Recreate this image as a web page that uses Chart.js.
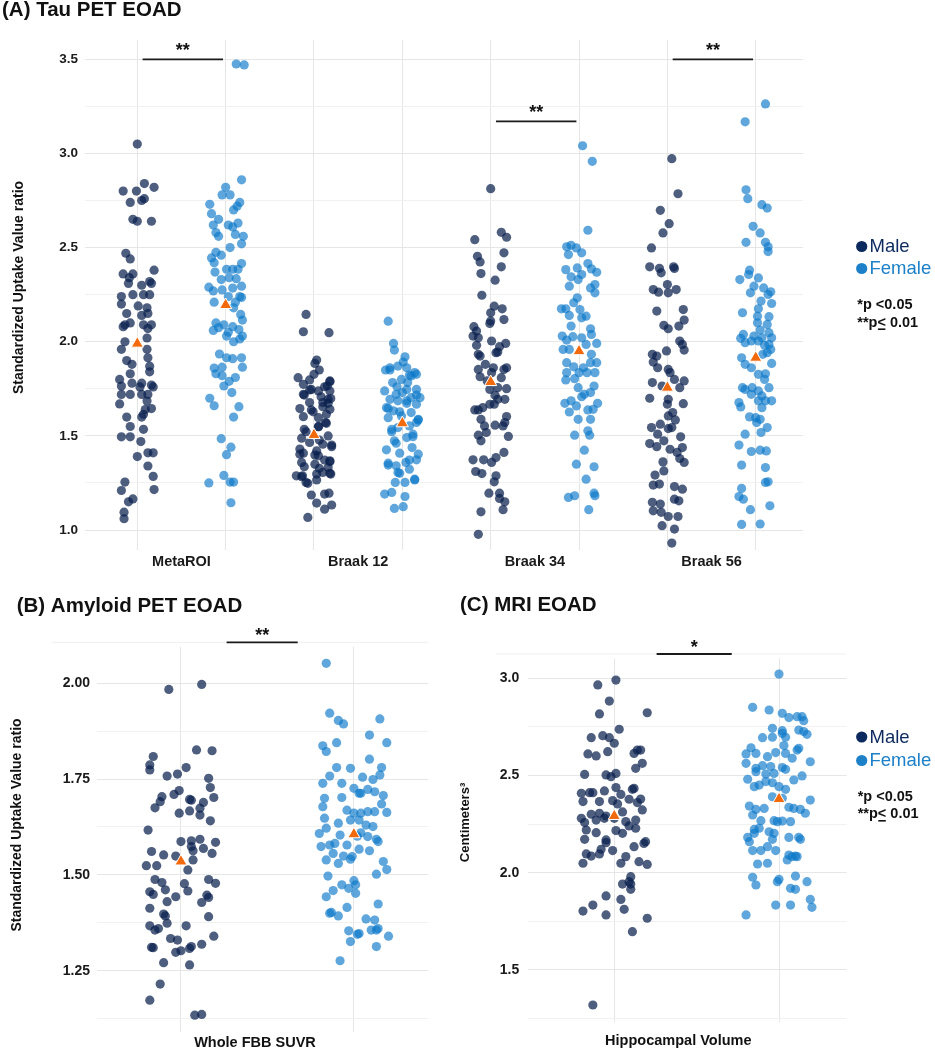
<!DOCTYPE html>
<html>
<head>
<meta charset="utf-8">
<script src="https://cdn.jsdelivr.net/npm/chart.js@4.4.1/dist/chart.umd.min.js"></script>
<style>
  body { margin: 0; background: #fff; }
  #wrap { position: relative; width: 935px; height: 1050px; overflow: hidden; }
  canvas { position: absolute; }
</style>
</head>
<body>
<div id="wrap">
  <canvas id="tau" width="935" height="570" style="left:0;top:0;width:935px;height:570px"></canvas>
  <canvas id="amyloid" width="450" height="480" style="left:0;top:570px;width:450px;height:480px"></canvas>
  <canvas id="mri" width="485" height="480" style="left:450px;top:570px;width:485px;height:480px"></canvas>
</div>
<script>
const FONT = '"Liberation Sans", Arial, Helvetica, sans-serif';
Chart.defaults.font.family = FONT;

// each point: [jitter (in group-spacing units), value]
const tauRegions = ['MetaROI', 'Braak 12', 'Braak 34', 'Braak 56'];

const tauMaleMetaROI = [[0,3.05],[0.08,2.84],[0.19,2.82],[-0.16,2.80],[-0.01,2.80],[-0.08,2.74],[0.05,2.75],[0.08,2.76],[-0.05,2.65],[0,2.64],[0.16,2.64],[-0.13,2.47],[-0.08,2.44],[0.19,2.38],[-0.16,2.36],[-0.09,2.34],[-0.05,2.36],[0.14,2.32],[-0.10,2.31],[0.05,2.30],[0.16,2.31],[-0.18,2.24],[-0.05,2.25],[0.07,2.25],[0.14,2.25],[-0.18,2.20],[0.01,2.19],[0.11,2.18],[0.12,2.15],[0.05,2.14],[-0.12,2.15],[-0.08,2.10],[-0.14,2.09],[0.07,2.09],[0.16,2.09],[-0.16,2.08],[0.12,2.07],[0.11,2.02],[-0.14,2.00],[-0.18,1.96],[0.11,1.96],[-0.12,1.90],[0.12,1.915],[-0.06,1.88],[0.14,1.87],[-0.08,1.83],[0.14,1.84],[-0.20,1.80],[0.05,1.78],[-0.06,1.78],[-0.18,1.765],[0.16,1.77],[0.18,1.76],[0.03,1.76],[-0.18,1.72],[-0.08,1.72],[0.05,1.72],[0.12,1.72],[0.11,1.685],[-0.20,1.67],[0.09,1.64],[0.16,1.645],[0.07,1.615],[0.05,1.60],[-0.12,1.60],[-0.08,1.55],[0.07,1.535],[-0.18,1.495],[-0.08,1.495],[0.04,1.47],[0.12,1.41],[0.18,1.41],[0,1.39],[0.12,1.34],[0.18,1.285],[-0.14,1.255],[-0.18,1.21],[0.19,1.215],[-0.05,1.165],[-0.10,1.15],[-0.15,1.095],[-0.15,1.06]];
const tauFemaleMetaROI = [[0.12,3.475],[0.21,3.47],[0.18,2.86],[0,2.82],[-0.04,2.78],[0.05,2.78],[-0.18,2.73],[0.16,2.74],[0.13,2.72],[0.09,2.70],[-0.16,2.68],[-0.08,2.65],[-0.14,2.62],[0.03,2.62],[0.14,2.63],[0.08,2.61],[-0.11,2.58],[-0.08,2.56],[0.11,2.57],[0.20,2.56],[0.18,2.52],[0.05,2.50],[-0.11,2.475],[-0.16,2.445],[-0.05,2.46],[-0.13,2.42],[0.18,2.415],[0.01,2.385],[0.08,2.385],[0.14,2.385],[-0.12,2.37],[-0.05,2.33],[0.04,2.34],[0.12,2.335],[-0.19,2.29],[-0.14,2.27],[-0.04,2.275],[0.08,2.285],[0.18,2.295],[0.03,2.24],[0.16,2.24],[0.11,2.21],[0.18,2.235],[-0.13,2.21],[0.09,2.18],[0.17,2.145],[0.19,2.115],[-0.11,2.10],[-0.02,2.09],[-0.08,2.075],[0.08,2.08],[-0.14,2.06],[0.03,2.05],[0.15,2.065],[0.01,2.03],[0.19,2.03],[0.09,2.00],[0.16,2.015],[-0.07,1.935],[0.01,1.915],[0.08,1.91],[0.18,1.915],[-0.13,1.86],[-0.04,1.865],[0.19,1.865],[-0.11,1.83],[-0.04,1.82],[0.11,1.81],[0.04,1.79],[-0.02,1.765],[0.07,1.73],[-0.18,1.70],[-0.13,1.66],[0.15,1.655],[0.09,1.60],[-0.05,1.485],[0.06,1.44],[0.01,1.40],[-0.02,1.29],[-0.19,1.25],[0.05,1.255],[0.09,1.255],[0.06,1.145]];

const tauMaleBraak12 = [[-0.09,2.145],[-0.12,2.053],[0.17,2.048],[0.03,1.903],[0.01,1.885],[0.06,1.85],[0,1.827],[-0.18,1.809],[-0.12,1.774],[-0.03,1.747],[0.05,1.739],[0.18,1.792],[0.15,1.765],[-0.12,1.721],[0.18,1.739],[0.16,1.694],[0.19,1.698],[-0.16,1.645],[-0.05,1.677],[0.10,1.677],[0.18,1.641],[-0.03,1.638],[0.05,1.597],[0.14,1.615],[-0.11,1.535],[0.05,1.549],[0.13,1.571],[0.16,1.50],[-0.14,1.488],[-0.05,1.465],[0.10,1.456],[0.20,1.451],[-0.16,1.43],[-0.16,1.403],[0.03,1.42],[0.05,1.394],[-0.14,1.359],[0.01,1.35],[0.18,1.368],[0.16,1.332],[-0.20,1.288],[-0.13,1.288],[-0.09,1.253],[0.03,1.297],[0.10,1.306],[0.19,1.297],[-0.03,1.186],[0.03,1.143],[0.12,1.191],[0.17,1.196],[0.12,1.111],[0.20,1.133],[-0.07,1.067],[-0.05,1.744],[0.12,1.761],[0.18,1.788],[-0.11,1.717],[0.10,1.655],[-0.01,1.628],[0.16,1.673],[-0.12,1.602],[0.14,1.567],[-0.09,1.522],[0.06,1.478],[0.20,1.443],[-0.12,1.408],[0.01,1.399],[0.18,1.363],[-0.11,1.336],[0.06,1.328],[0.18,1.301],[-0.14,1.283],[0.03,1.266],[-0.07,1.248],[0.12,1.372],[0.05,1.549],[-0.05,1.797],[0.08,1.708]];
const tauFemaleBraak12 = [[-0.16,2.109],[-0.10,1.991],[-0.09,1.956],[0.03,1.92],[0.01,1.892],[-0.19,1.85],[-0.14,1.862],[-0.05,1.871],[0.05,1.862],[0.14,1.836],[0.10,1.818],[0.16,1.827],[-0.01,1.80],[-0.11,1.783],[0.06,1.783],[-0.20,1.739],[0.05,1.747],[0.16,1.747],[-0.07,1.721],[0,1.73],[0.10,1.703],[0.20,1.703],[-0.14,1.694],[-0.05,1.686],[0.05,1.686],[-0.18,1.65],[0.16,1.668],[-0.10,1.633],[-0.16,1.597],[-0.01,1.606],[0.10,1.624],[0.18,1.588],[-0.12,1.535],[-0.05,1.544],[0.08,1.553],[0.16,1.571],[-0.09,1.474],[0.05,1.491],[0.12,1.509],[-0.18,1.426],[-0.03,1.408],[0.11,1.438],[0.18,1.403],[-0.16,1.355],[-0.07,1.341],[0.04,1.359],[0.16,1.373],[-0.05,1.306],[0.08,1.323],[-0.08,1.253],[0.03,1.253],[0.14,1.27],[-0.20,1.191],[-0.12,1.20],[0.03,1.178],[-0.09,1.115],[0.01,1.124],[-0.14,1.85],[0.08,1.823],[-0.06,1.761],[0.16,1.717],[-0.16,1.646],[0.05,1.673],[-0.03,1.628],[0.18,1.584],[-0.12,1.522],[0.12,1.496],[-0.07,1.461],[0.08,1.372],[-0.03,1.301],[-0.16,1.345],[0.14,1.266]];

const tauMaleBraak34 = [[0,2.813],[0.12,2.581],[0.18,2.555],[-0.18,2.542],[0.15,2.472],[-0.15,2.454],[-0.12,2.424],[-0.11,2.362],[0.12,2.398],[0.05,2.327],[-0.10,2.247],[0.04,2.189],[0.13,2.175],[0,2.154],[0,2.11],[0.15,2.118],[-0.01,2.097],[-0.19,2.08],[-0.16,2.057],[-0.20,2.03],[-0.14,2.021],[0.01,2.004],[0.17,1.991],[-0.16,1.981],[0.10,1.974],[-0.14,1.933],[0.06,1.942],[0.08,1.945],[-0.12,1.924],[0.18,1.862],[-0.06,1.88],[0.03,1.862],[-0.14,1.853],[0.15,1.853],[-0.12,1.814],[0.12,1.809],[0.01,1.836],[-0.04,1.792],[-0.01,1.747],[0.08,1.756],[0.18,1.751],[0.16,1.694],[0.05,1.716],[0.08,1.694],[-0.09,1.65],[-0.18,1.638],[-0.14,1.638],[-0.01,1.668],[0.04,1.668],[0.18,1.603],[0.16,1.571],[0.14,1.553],[-0.11,1.588],[-0.07,1.553],[0.05,1.557],[-0.14,1.504],[-0.05,1.518],[-0.11,1.474],[0.20,1.497],[0.15,1.412],[0.06,1.385],[-0.20,1.373],[-0.08,1.373],[0.01,1.359],[-0.17,1.311],[-0.10,1.30],[0.06,1.288],[0.04,1.256],[-0.02,1.196],[0.10,1.196],[0.10,1.168],[0.16,1.15],[-0.11,1.097],[0.14,1.108],[-0.14,0.977]];
const tauFemaleBraak34 = [[0.04,3.041],[0.15,2.958],[0.10,2.592],[-0.14,2.504],[-0.09,2.512],[-0.03,2.498],[0.03,2.472],[-0.12,2.463],[-0.15,2.383],[-0.02,2.392],[0.10,2.415],[0.20,2.369],[0.14,2.387],[-0.09,2.345],[-0.01,2.33],[0.03,2.357],[0.18,2.304],[-0.11,2.295],[0.13,2.286],[0.18,2.26],[-0.02,2.233],[-0.06,2.207],[-0.20,2.175],[-0.15,2.175],[-0.11,2.14],[0.01,2.171],[0.08,2.136],[0.03,2.127],[-0.09,2.083],[0.13,2.069],[-0.19,2.03],[-0.14,2.009],[-0.07,2.027],[0.03,2.021],[0.14,2.039],[0.20,1.991],[-0.11,1.959],[-0.18,1.959],[0.08,1.986],[0.14,1.933],[-0.14,1.889],[-0.06,1.867],[0.05,1.862],[0.13,1.889],[0.20,1.889],[-0.14,1.836],[0,1.836],[0.09,1.836],[0.18,1.836],[-0.15,1.797],[-0.05,1.804],[0.17,1.765],[-0.01,1.756],[0.06,1.721],[0.03,1.708],[0.13,1.73],[-0.16,1.673],[-0.09,1.686],[-0.03,1.659],[0.10,1.638],[0.21,1.673],[0.16,1.641],[-0.11,1.627],[-0.01,1.588],[0.13,1.588],[0.10,1.527],[-0.05,1.504],[0.12,1.504],[0.06,1.424],[-0.03,1.35],[0.17,1.336],[0.08,1.27],[-0.12,1.173],[-0.05,1.182],[0.17,1.196],[0.18,1.182],[0.11,1.108]];

const tauMaleBraak56 = [[0.05,2.972],[0.12,2.786],[-0.08,2.698],[0.02,2.627],[-0.05,2.578],[-0.18,2.498],[-0.20,2.398],[-0.09,2.39],[-0.07,2.366],[0.07,2.398],[0.08,2.389],[-0.16,2.277],[-0.10,2.263],[0.01,2.26],[0,2.304],[0.10,2.277],[-0.12,2.163],[0.18,2.171],[0.19,2.115],[-0.04,2.087],[0.01,2.069],[0.13,2.083],[0.14,2.004],[0.17,1.986],[0.19,1.956],[-0.17,1.933],[-0.12,1.924],[-0.01,1.951],[-0.16,1.892],[-0.11,1.862],[0.01,1.853],[0.03,1.836],[0.08,1.80],[-0.17,1.783],[-0.06,1.765],[0.19,1.792],[0.14,1.756],[-0.20,1.70],[0.01,1.694],[0,1.668],[0.18,1.671],[0.01,1.606],[0.06,1.624],[0.09,1.585],[-0.18,1.544],[-0.08,1.562],[0.01,1.539],[0.05,1.544],[-0.11,1.509],[0.15,1.495],[-0.20,1.459],[-0.12,1.443],[-0.04,1.474],[0.03,1.429],[0.11,1.412],[0.17,1.438],[0.14,1.38],[-0.05,1.362],[0.19,1.359],[-0.04,1.314],[-0.14,1.292],[-0.16,1.239],[-0.09,1.244],[0.08,1.231],[0.17,1.217],[0.08,1.164],[0.13,1.155],[-0.17,1.147],[-0.08,1.138],[-0.16,1.102],[-0.07,1.094],[0.01,1.072],[0.12,1.072],[-0.06,1.023],[0.08,1.005],[0.05,0.931]];
const tauFemaleBraak56 = [[0.11,3.263],[-0.12,3.168],[-0.11,2.807],[-0.09,2.76],[0.07,2.728],[0.13,2.71],[-0.03,2.613],[0.05,2.578],[-0.11,2.528],[0.11,2.528],[0.14,2.504],[0.14,2.479],[-0.07,2.38],[-0.18,2.33],[-0.08,2.357],[0.03,2.339],[-0.02,2.295],[0.09,2.286],[-0.06,2.26],[0.17,2.265],[0.14,2.251],[0.06,2.216],[0.18,2.203],[-0.15,2.154],[0.03,2.175],[0.02,2.136],[0.15,2.133],[0.13,2.092],[0.02,2.101],[0.05,2.062],[-0.14,2.039],[-0.02,2.03],[0.15,2.048],[0.18,2.021],[-0.17,2.018],[-0.12,1.995],[-0.05,2.004],[0.03,2.004],[0.07,2.021],[0.10,1.981],[0.15,1.986],[0.17,1.959],[0.13,1.942],[0.08,1.933],[-0.16,1.915],[-0.12,1.88],[-0.05,1.862],[0.18,1.885],[0.03,1.827],[0.11,1.83],[0.10,1.80],[-0.15,1.756],[-0.12,1.747],[-0.04,1.756],[-0.05,1.721],[0.03,1.739],[0.15,1.756],[0.07,1.712],[0.03,1.686],[0.11,1.686],[0.18,1.686],[-0.19,1.677],[-0.17,1.654],[0.07,1.65],[0,1.597],[-0.07,1.601],[0.05,1.588],[0.13,1.544],[0.01,1.571],[-0.12,1.509],[0.06,1.518],[-0.19,1.451],[-0.05,1.417],[0.05,1.424],[0.12,1.42],[-0.16,1.345],[0.11,1.332],[0.11,1.253],[0.14,1.256],[-0.16,1.221],[-0.19,1.178],[-0.14,1.164],[-0.06,1.108],[0.16,1.129],[-0.16,1.03],[0.05,1.032]];

const tauMaleMeans = [1.99, 1.505, 1.786, 1.756];
const tauFemaleMeans = [2.195, 1.567, 1.95, 1.915];
const tauSigLabels = ['**', '', '**', '**'];
const tauSigHeights = [3.5, null, 3.17, 3.5];
const tauMajorTicks = [1.0, 1.5, 2.0, 2.5, 3.0, 3.5];
const tauMinorTicks = [1.25, 1.75, 2.25, 2.75, 3.25];

const amyloidMale = [[-0.07,1.984],[0.12,1.997],[0.09,1.826],[0.18,1.824],[-0.16,1.809],[-0.18,1.787],[-0.18,1.774],[0.03,1.78],[-0.08,1.758],[-0.02,1.763],[0.16,1.752],[0.17,1.728],[0.19,1.702],[-0.11,1.704],[-0.12,1.691],[-0.15,1.675],[-0.04,1.71],[-0.01,1.72],[0.05,1.697],[0.06,1.695],[0.13,1.689],[0.11,1.674],[-0.01,1.661],[0.05,1.667],[0.11,1.656],[0.17,1.641],[-0.19,1.617],[0,1.587],[0.06,1.589],[0.11,1.593],[0.20,1.585],[0.06,1.574],[0.13,1.569],[0.07,1.563],[0.18,1.556],[-0.03,1.549],[-0.17,1.561],[-0.10,1.552],[-0.20,1.524],[-0.14,1.524],[0.07,1.539],[0.04,1.513],[0.16,1.488],[0.20,1.478],[-0.15,1.488],[-0.11,1.48],[0.02,1.477],[-0.09,1.461],[0.04,1.458],[-0.18,1.456],[-0.16,1.449],[-0.03,1.443],[0.15,1.447],[0.16,1.441],[-0.08,1.43],[0.12,1.428],[-0.18,1.413],[-0.10,1.398],[-0.09,1.393],[0.16,1.391],[-0.18,1.367],[0.03,1.367],[-0.15,1.356],[-0.13,1.36],[-0.08,1.374],[-0.06,1.334],[-0.02,1.33],[0.19,1.34],[0.12,1.319],[0.06,1.313],[0.05,1.308],[-0.17,1.311],[-0.16,1.31],[0,1.302],[-0.03,1.298],[-0.10,1.271],[0.05,1.265],[-0.12,1.215],[-0.18,1.173],[0.08,1.134],[0.12,1.136]];
const amyloidFemale = [[-0.16,2.052],[-0.14,1.922],[-0.09,1.903],[-0.06,1.894],[0.15,1.907],[0.09,1.865],[0.19,1.845],[-0.18,1.837],[-0.16,1.822],[-0.10,1.845],[0.09,1.802],[-0.10,1.78],[-0.02,1.778],[0.16,1.78],[0.15,1.761],[-0.14,1.758],[-0.18,1.739],[0.05,1.755],[0.11,1.749],[-0.07,1.739],[0,1.726],[0.04,1.713],[0.08,1.723],[0.12,1.717],[0.17,1.707],[-0.17,1.70],[-0.18,1.678],[-0.07,1.702],[0.03,1.713],[-0.04,1.669],[0,1.661],[0.04,1.661],[0.08,1.665],[0.12,1.665],[0.16,1.685],[0.19,1.663],[-0.17,1.648],[-0.16,1.622],[-0.09,1.635],[-0.02,1.643],[0.03,1.643],[0.07,1.63],[0.11,1.626],[-0.08,1.604],[-0.20,1.608],[-0.11,1.582],[-0.14,1.578],[-0.19,1.574],[-0.04,1.578],[0.02,1.601],[0.04,1.61],[0.08,1.60],[0.13,1.593],[0.14,1.587],[-0.12,1.556],[-0.06,1.549],[-0.01,1.548],[0.03,1.567],[0.09,1.563],[-0.16,1.539],[-0.09,1.53],[-0.02,1.541],[0.17,1.535],[0.19,1.514],[0.13,1.502],[-0.15,1.497],[0,1.485],[0.01,1.474],[-0.12,1.459],[-0.07,1.474],[-0.03,1.465],[0.01,1.452],[-0.16,1.443],[0.14,1.424],[-0.04,1.415],[-0.14,1.40],[-0.13,1.402],[-0.09,1.393],[0.07,1.385],[0.12,1.382],[-0.03,1.354],[0.02,1.345],[0.03,1.347],[0.10,1.356],[0.13,1.356],[0.14,1.36],[0.20,1.34],[-0.02,1.326],[0.13,1.313],[-0.08,1.276]];
const amyloidMeans = [1.535, 1.606];
const amyloidMajorTicks = [1.25, 1.5, 1.75, 2.0];
const amyloidMinorTicks = [1.125, 1.375, 1.625, 1.875];

const hippoMale = [[-0.10,2.966],[0.01,2.991],[-0.03,2.883],[-0.09,2.817],[0.20,2.823],[0.03,2.738],[-0.14,2.695],[-0.07,2.705],[-0.03,2.695],[0,2.666],[0.14,2.631],[0.16,2.631],[-0.16,2.611],[-0.11,2.601],[-0.04,2.623],[0.12,2.614],[0.17,2.563],[0.13,2.537],[-0.18,2.506],[-0.05,2.503],[-0.02,2.494],[0.01,2.511],[-0.15,2.412],[-0.13,2.412],[-0.06,2.421],[-0.20,2.409],[0.01,2.438],[0.12,2.434],[0.04,2.403],[0.11,2.429],[0.16,2.379],[-0.19,2.366],[-0.09,2.366],[-0.01,2.371],[0.02,2.354],[0.09,2.378],[0.14,2.361],[-0.14,2.301],[-0.09,2.306],[-0.05,2.292],[0.05,2.313],[0.17,2.323],[-0.20,2.28],[-0.18,2.258],[-0.11,2.271],[-0.06,2.28],[0,2.28],[0.07,2.263],[0.13,2.271],[-0.17,2.22],[-0.11,2.206],[0.01,2.217],[0.05,2.203],[0.09,2.241],[0.13,2.229],[-0.18,2.172],[-0.05,2.169],[-0.05,2.155],[0.19,2.16],[0.18,2.151],[-0.08,2.121],[-0.01,2.114],[0.12,2.134],[-0.17,2.097],[-0.14,2.086],[-0.09,2.097],[0.07,2.083],[-0.19,2.049],[0.04,2.049],[0.15,2.057],[0.20,2.043],[0.10,1.98],[0.09,1.954],[0.05,1.942],[0.10,1.942],[0.10,1.915],[-0.05,1.881],[0.04,1.863],[-0.13,1.834],[-0.19,1.803],[0.06,1.812],[-0.05,1.783],[0.20,1.766],[0.11,1.697],[-0.13,1.32]];
const hippoFemale = [[0,3.022],[-0.16,2.851],[-0.06,2.837],[0.02,2.82],[0.06,2.798],[0.11,2.803],[0.14,2.803],[0.15,2.782],[-0.04,2.743],[0.02,2.731],[0.12,2.734],[0.15,2.726],[-0.10,2.695],[-0.04,2.697],[0.02,2.717],[0.04,2.697],[0.17,2.712],[0.03,2.654],[0.12,2.64],[-0.17,2.643],[-0.14,2.614],[-0.20,2.611],[-0.07,2.597],[-0.02,2.618],[0.04,2.614],[0.11,2.631],[0.19,2.571],[0.08,2.589],[-0.20,2.563],[-0.14,2.537],[-0.10,2.551],[-0.05,2.546],[0.02,2.541],[0.04,2.532],[0.14,2.498],[0.09,2.477],[-0.19,2.481],[-0.14,2.52],[-0.08,2.508],[-0.03,2.511],[-0.15,2.443],[-0.12,2.451],[-0.08,2.469],[-0.04,2.463],[0,2.443],[0.04,2.429],[0.19,2.374],[-0.18,2.343],[-0.14,2.326],[-0.09,2.331],[-0.04,2.391],[0.02,2.383],[0.06,2.337],[0.09,2.331],[0.13,2.326],[0.16,2.306],[-0.16,2.297],[-0.11,2.268],[-0.03,2.268],[-0.01,2.263],[0.02,2.266],[0.07,2.263],[-0.15,2.223],[-0.12,2.229],[-0.06,2.211],[-0.03,2.203],[-0.19,2.182],[-0.18,2.16],[-0.15,2.203],[-0.04,2.172],[0.06,2.182],[0.12,2.182],[0.13,2.172],[-0.16,2.114],[-0.11,2.114],[-0.07,2.134],[-0.02,2.114],[0.06,2.091],[0.08,2.083],[0.11,2.083],[-0.13,2.045],[-0.07,2.049],[0.05,2.066],[0.10,2.086],[-0.16,1.977],[-0.14,1.937],[0,1.966],[-0.01,1.954],[0.10,1.983],[0.07,1.92],[0.10,1.915],[0.17,1.954],[0.19,1.863],[0.20,1.822],[-0.02,1.834],[0.07,1.834],[-0.20,1.783]];
const hippoMeans = [2.292, 2.379];
const hippoMajorTicks = [1.5, 2.0, 2.5, 3.0];
const hippoMinorTicks = [1.25, 1.75, 2.25, 2.75];

const maleColor = 'rgba(10, 32, 78, 0.72)';
const femaleColor = 'rgba(10, 120, 200, 0.66)';
const meanColor = '#f26a0c';

function groupData(pairs, pos) {
  return pairs.map(p => ({ x: pos + p[0], y: p[1] }));
}

function dotSet(label, data, color) {
  return { label, data, backgroundColor: color, borderWidth: 0, pointRadius: 4.6, pointHoverRadius: 4.6, order: 2 };
}

function meanSet(data) {
  return { label: 'Mean', data, pointStyle: 'triangle', pointRadius: 7, pointHoverRadius: 7,
           backgroundColor: meanColor, borderColor: '#ffffff', borderWidth: 1, order: 0 };
}

function isIn(list, v) { return list.some(m => Math.abs(m - v) < 1e-9); }

function yAxis(min, max, major, minor, digits, width, pad, size) {
  const all = major.concat(minor).sort((a, b) => a - b);
  return {
    type: 'linear', min, max,
    afterBuildTicks: s => { s.ticks = all.map(v => ({ value: v })); },
    afterFit: s => { s.width = width; },
    ticks: { padding: pad, color: '#1a1a1a', font: { size, weight: 'bold' },
             callback: v => isIn(major, v) ? v.toFixed(digits) : '' },
    grid: { drawTicks: false, color: c => isIn(major, c.tick.value) ? '#e6e6e6' : '#f1f1f1' },
    border: { display: false }
  };
}

function xAxis(min, max, gridAt, labelAt, labels, height, pad) {
  const all = gridAt.concat(labelAt).sort((a, b) => a - b);
  return {
    type: 'linear', min, max,
    afterBuildTicks: s => { s.ticks = all.map(v => ({ value: v })); },
    afterFit: s => { s.height = height; },
    ticks: { autoSkip: false, maxRotation: 0, padding: pad, color: '#1a1a1a', font: { size: 14.5, weight: 'bold' },
             callback: v => { const i = labelAt.findIndex(c => Math.abs(c - v) < 1e-9); return i >= 0 ? labels[i] : ''; } },
    grid: { drawTicks: false, color: c => isIn(gridAt, c.tick.value) ? '#e6e6e6' : 'rgba(0,0,0,0)' },
    border: { display: false }
  };
}

// significance bars, titles, legend, notes
function extras(cfg) {
  return {
    id: 'extras',
    afterDraw(chart) {
      const ctx = chart.ctx, xs = chart.scales.x, ys = chart.scales.y;
      ctx.save();
      cfg.bars.forEach(b => {
        const y = ys.getPixelForValue(b.y);
        const x1 = xs.getPixelForValue(b.from), x2 = xs.getPixelForValue(b.to);
        if (b.guide) {
          ctx.strokeStyle = '#efefef'; ctx.lineWidth = 1;
          ctx.beginPath(); ctx.moveTo(chart.chartArea.left - b.guide, y); ctx.lineTo(chart.chartArea.right, y); ctx.stroke();
        }
        ctx.strokeStyle = '#1a1a1a'; ctx.lineWidth = 1.8;
        ctx.beginPath(); ctx.moveTo(x1, y); ctx.lineTo(x2, y); ctx.stroke();
        ctx.fillStyle = '#111'; ctx.font = 'bold 18px ' + FONT;
        ctx.textAlign = 'center'; ctx.textBaseline = 'alphabetic';
        ctx.fillText(b.label, (x1 + x2) / 2, y - b.gap);
      });
      cfg.texts.forEach(t => {
        ctx.save();
        ctx.translate(t.x - cfg.ox, t.y - cfg.oy);
        if (t.rot) ctx.rotate(-Math.PI / 2);
        ctx.font = t.font + ' ' + FONT;
        ctx.fillStyle = t.color || '#111';
        ctx.textAlign = t.align || 'left';
        ctx.textBaseline = t.base || 'alphabetic';
        ctx.fillText(t.t, 0, 0);
        ctx.restore();
      });
      if (cfg.legend) {
        const L = cfg.legend;
        [['Male', '#0c2a5e', L.y1], ['Female', '#1c81c9', L.y2]].forEach(([name, col, yy]) => {
          ctx.fillStyle = col;
          ctx.beginPath(); ctx.arc(L.dotX - cfg.ox, yy - 5.5 - cfg.oy, 5.6, 0, Math.PI * 2); ctx.fill();
          ctx.font = '18.5px ' + FONT; ctx.textAlign = 'left'; ctx.textBaseline = 'alphabetic';
          ctx.fillText(name, L.textX - cfg.ox, yy - cfg.oy);
        });
        // p-value notes
        ctx.fillStyle = '#111'; ctx.font = 'bold 14.5px ' + FONT;
        const px = L.noteX - cfg.ox;
        ctx.fillText('*p <0.05', px, L.n1 - cfg.oy);
        const y2 = L.n2 - cfg.oy;
        const a = '**p', b = '<', c = ' 0.01';
        ctx.fillText(a, px, y2);
        const wa = ctx.measureText(a).width, wb = ctx.measureText(b).width;
        ctx.fillText(b, px + wa, y2);
        ctx.fillText(c, px + wa + wb, y2);
        ctx.strokeStyle = '#111'; ctx.lineWidth = 1.6;
        ctx.beginPath(); ctx.moveTo(px + wa + 0.5, y2 + 2.5); ctx.lineTo(px + wa + wb - 0.5, y2 + 2.5); ctx.stroke();
      }
      ctx.restore();
    }
  };
}

function baseOptions(padding, scales) {
  return {
    responsive: false, animation: false, devicePixelRatio: 1,
    layout: { padding },
    plugins: { legend: { display: false }, tooltip: { enabled: false } },
    scales
  };
}

// ---------- (A) Tau PET ----------
const tauGroups = [tauMaleMetaROI, tauFemaleMetaROI, tauMaleBraak12, tauFemaleBraak12,
                   tauMaleBraak34, tauFemaleBraak34, tauMaleBraak56, tauFemaleBraak56];
const tauPos = tauGroups.map((g, i) => i + 1);
const tauCenters = tauRegions.map((r, i) => 2 * i + 1.5);
const tauDatasets = [];
tauGroups.forEach((g, i) => {
  const male = i % 2 === 0;
  tauDatasets.push(dotSet(male ? 'Male' : 'Female', groupData(g, tauPos[i]), male ? maleColor : femaleColor));
});
tauDatasets.push(meanSet(tauMaleMeans.map((v, i) => ({ x: 2 * i + 1, y: v }))
  .concat(tauFemaleMeans.map((v, i) => ({ x: 2 * i + 2, y: v })))));

const tauBars = [];
tauSigLabels.forEach((s, i) => {
  if (s) tauBars.push({ label: s, y: tauSigHeights[i], from: 2 * i + 1 + 0.06, to: 2 * i + 2 - 0.03, gap: 3 });
});

new Chart(document.getElementById('tau'), {
  type: 'scatter',
  data: { datasets: tauDatasets },
  options: baseOptions({ left: 0, top: 40, right: 132, bottom: 0 }, {
    x: xAxis(0.408, 8.535, tauPos, tauCenters, tauRegions, 20, 3),
    y: yAxis(0.894, 3.6025, tauMajorTicks, tauMinorTicks, 1, 85, 7, 13.5)
  }),
  plugins: [extras({
    ox: 0, oy: 0, bars: tauBars,
    texts: [
      { t: '(A) Tau PET EOAD', x: 2, y: 16, font: 'bold 20.5px' },
      { t: 'Standardized Uptake Value ratio', x: 19.2, y: 287.5, font: 'bold 14px', rot: true, align: 'center', base: 'middle' }
    ],
    legend: { dotX: 861.7, textX: 869.5, y1: 252, y2: 274, noteX: 857.3, n1: 309.3, n2: 326.7 }
  })]
});

// ---------- (B) Amyloid PET ----------
new Chart(document.getElementById('amyloid'), {
  type: 'scatter',
  data: { datasets: [
    dotSet('Male', groupData(amyloidMale, 1), maleColor),
    dotSet('Female', groupData(amyloidFemale, 2), femaleColor),
    meanSet(amyloidMeans.map((v, i) => ({ x: i + 1, y: v })))
  ] },
  options: baseOptions({ left: 0, top: 76.7, right: 21.7, bottom: 0 }, {
    x: xAxis(0.513, 2.43, [1, 2], [], [], 18.3, 0),
    y: yAxis(1.0908, 2.0955, amyloidMajorTicks, amyloidMinorTicks, 2, 96.7, 6.7, 14)
  }),
  plugins: [extras({
    ox: 0, oy: 570,
    bars: [{ label: '**', y: 2.107, from: 1.264, to: 1.675, gap: 1, guide: 45 }],
    texts: [
      { t: '(B) Amyloid PET EOAD', x: 16.7, y: 612, font: 'bold 20.5px' },
      { t: 'Standardized Uptake Value ratio', x: 17.5, y: 825, font: 'bold 14px', rot: true, align: 'center', base: 'middle' },
      { t: 'Whole FBB SUVR', x: 255, y: 1042.5, font: 'bold 14.5px', align: 'center', base: 'middle' }
    ]
  })]
});

// ---------- (C) MRI ----------
new Chart(document.getElementById('mri'), {
  type: 'scatter',
  data: { datasets: [
    dotSet('Male', groupData(hippoMale, 1), maleColor),
    dotSet('Female', groupData(hippoFemale, 2), femaleColor),
    meanSet(hippoMeans.map((v, i) => ({ x: i + 1, y: v })))
  ] },
  options: baseOptions({ left: 0, top: 88.3, right: 88.3, bottom: 0 }, {
    x: xAxis(0.478, 2.411, [1, 2], [], [], 28.3, 0),
    y: yAxis(1.234, 3.103, hippoMajorTicks, hippoMinorTicks, 1, 78.3, 9, 14)
  }),
  plugins: [extras({
    ox: 450, oy: 570,
    bars: [{ label: '*', y: 3.125, from: 1.257, to: 1.713, gap: 1, guide: 32 }],
    texts: [
      { t: '(C) MRI EOAD', x: 460, y: 611, font: 'bold 20.5px' },
      { t: 'Centimeters\u00B3', x: 465, y: 822.5, font: 'bold 13px', rot: true, align: 'center', base: 'middle' },
      { t: 'Hippocampal Volume', x: 678.3, y: 1040.7, font: 'bold 14.5px', align: 'center', base: 'middle' }
    ],
    legend: { dotX: 861.7, textX: 869.5, y1: 742.5, y2: 766, noteX: 857.7, n1: 800.7, n2: 818.3 }
  })]
});
</script>
</body>
</html>
